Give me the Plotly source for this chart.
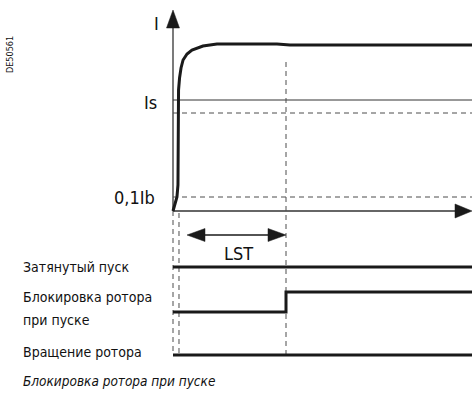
import plotly.graph_objects as go

# --- data (time in LST units, current in arbitrary units) ---
LST = 1.0
T_END = 2.646
t_curve = [0, 0.018, 0.035, 0.044, 0.044, 0.049, 0.058, 0.071, 0.089, 0.124, 0.168, 0.265, 0.389, 0.92, 1.035, T_END]
i_curve = [0, 0.3, 0.7, 1.3, 4.55, 6.05, 6.65, 7.15, 7.55, 7.85, 8.05, 8.25, 8.35, 8.35, 8.3, 8.3]

I_S = 5.55          # Is threshold
I_S_DROP = 4.9      # dashed level below Is
I_01IB = 0.7        # 0,1Ib
T_DETECT = 0.053    # second vertical guide
T_ARROW0 = 0.124    # start of LST arrow

signal_names = ["Затянутый пуск", "Блокировка ротора\nпри пуске", "Вращение ротора"]
signal_t = [[0, T_END], [0, LST, T_END], [0, T_END]]
signal_v = [[0, 0], [0, 1, 1], [0, 0]]

# --- layout helpers (pixel geometry of the drawing) ---
W, H = 472, 394
X0, SX = 173, 113.0    # px of t=0, px per time unit
Y0, SY = 211, 20.0     # px of I=0, px per current unit
ROW_BASE = [-2.8, -5.05, -7.2]

def dx(px):
    return px / SX

def dy(px):
    return px / SY

FONT = "DejaVu Sans Condensed, sans-serif"
INK = "#1a1a1a"
THIN = "#333333"
DASH = "#4d4d4d"

fig = go.Figure()

def line(x, y, color=THIN, width=1, dash=None, shape="linear"):
    fig.add_trace(go.Scatter(x=x, y=y, mode="lines", hoverinfo="skip", showlegend=False,
                             line=dict(color=color, width=width, dash=dash, shape=shape)))

def tri(x, y):
    fig.add_trace(go.Scatter(x=x, y=y, mode="lines", fill="toself", fillcolor=INK,
                             line=dict(color=INK, width=0.5), hoverinfo="skip", showlegend=False))

y_top = (Y0 - 10) / SY
# axes
line([0, 0], [0, y_top - dy(17)], THIN, 1.3)
tri([-dx(6.5), dx(6.5), 0, -dx(6.5)], [y_top - dy(18), y_top - dy(18), y_top, y_top - dy(18)])
line([0, T_END - dx(16)], [0, 0], THIN, 1.3)
tri([T_END - dx(17), T_END - dx(17), T_END, T_END - dx(17)], [dy(7), -dy(7), 0, dy(7)])

# thresholds
line([0, T_END], [I_S, I_S], THIN, 1)
line([0, T_END], [I_S_DROP, I_S_DROP], DASH, 1, "5px,4px")
line([0, T_END], [I_01IB, I_01IB], DASH, 1, "5px,4px")

# vertical guides
line([0, 0], [0, ROW_BASE[2]], DASH, 1, "5px,4px")
line([T_DETECT, T_DETECT], [-dy(2), ROW_BASE[2]], DASH, 1, "5px,4px")
line([LST, LST], [(Y0 - 62) / SY, ROW_BASE[2]], DASH, 1, "5px,4px")

# current curve
line(t_curve, i_curve, INK, 3)

# LST arrow
ya = -dy(24)
line([T_ARROW0 + dx(10), LST - dx(10)], [ya, ya], INK, 1.3)
tri([T_ARROW0, T_ARROW0 + dx(18), T_ARROW0 + dx(18), T_ARROW0], [ya, ya + dy(6.5), ya - dy(6.5), ya])
tri([LST, LST - dx(18), LST - dx(18), LST], [ya, ya + dy(6.5), ya - dy(6.5), ya])

# logic signals
for base, ts, vs in zip(ROW_BASE, signal_t, signal_v):
    line(ts, [base + v for v in vs], INK, 3, shape="hv")

def px(x):
    return x / W

def py(y):
    return 1 - y / H

ann = []
def text(s, x, y, size, xanchor="left", italic=False, angle=0):
    ann.append(dict(text=s, x=px(x), y=py(y), xref="paper", yref="paper", showarrow=False,
                    xanchor=xanchor, yanchor="middle", textangle=angle,
                    font=dict(family=FONT, size=size, color="#111",
                              style="italic" if italic else "normal")))

text("I", 156, 24, 18, "center")
text("Is", 150, 102, 18, "center")
text("0,1Ib", 157, 197, 18, "right")
text("LST", 238, 253, 18, "center")
text("Затянутый пуск", 21, 267, 14)
text("Блокировка ротора", 21, 297, 14)
text("при пуске", 21, 320, 14)
text("Вращение ротора", 21, 352, 14)
text("Блокировка ротора при пуске", 21, 381, 13.5, italic=True)
text("DE50561", 10, 55, 9, "center", angle=-90)

fig.update_layout(
    width=W, height=H, margin=dict(l=0, r=0, t=0, b=0),
    paper_bgcolor="white", plot_bgcolor="white",
    xaxis=dict(range=[-X0 / SX, (W - X0) / SX], visible=False, fixedrange=True),
    yaxis=dict(range=[(Y0 - H) / SY, Y0 / SY], visible=False, fixedrange=True),
    annotations=ann,
)

fig.write_html("out.html", config={"displayModeBar": False},
               post_script="document.body.style.margin='0';")
